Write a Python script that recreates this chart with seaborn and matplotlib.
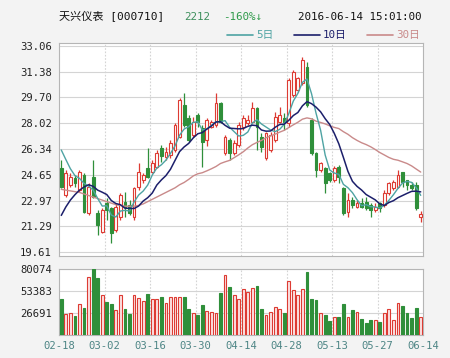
import numpy as np
import pandas as pd
import matplotlib
matplotlib.use("Agg")
import matplotlib.pyplot as plt
import seaborn as sns

# ---------------- data ----------------
tick_labels = ["02-18", "03-02", "03-16", "03-30", "04-14", "04-28", "05-13", "05-27", "06-14"]
price_ticks = [33.06, 31.38, 29.70, 28.02, 26.34, 24.65, 22.97, 21.29, 19.61]
vol_ticks = [26691, 53383, 80074]

opens = [25.07, 23.33, 23.98, 24.42, 23.66, 24.64, 22.13, 24.53, 22.13, 20.93,
         22.79, 22.46, 21.04, 21.91, 22.89, 22.68, 21.91, 23.87, 24.31, 25.07,
         24.85, 25.18, 26.40, 25.83, 25.94, 26.27, 27.14, 29.21, 28.34, 27.25,
         28.55, 27.68, 26.92, 27.79, 27.90, 29.32, 26.05, 26.92, 26.05, 26.60,
         27.79, 28.01, 28.12, 28.99, 27.14, 25.73, 26.27, 26.92, 28.12, 28.34,
         28.01, 29.86, 30.19, 30.62, 31.71, 28.23, 26.05, 24.96, 25.07, 24.74,
         24.31, 25.18, 23.76, 22.24, 23.00, 22.57, 22.79, 22.90, 22.68, 22.35,
         22.79, 22.68, 23.44, 23.76, 23.87, 24.85, 24.31, 23.98, 24.00, 21.90]
highs = [25.62, 24.96, 24.74, 24.64, 24.96, 24.74, 24.09, 25.62, 22.35, 22.46,
         23.11, 22.57, 22.79, 23.44, 23.55, 23.00, 23.87, 25.40, 24.74, 26.38,
         25.62, 26.27, 26.60, 26.49, 26.92, 28.01, 29.64, 29.97, 28.55, 28.45,
         28.66, 27.90, 28.34, 28.23, 29.97, 29.43, 27.25, 27.03, 26.92, 28.12,
         28.55, 28.55, 29.43, 29.10, 27.36, 27.47, 27.47, 28.77, 29.10, 28.66,
         30.95, 31.49, 31.06, 32.36, 32.04, 28.34, 26.16, 25.51, 25.18, 24.85,
         25.20, 25.30, 23.87, 23.44, 23.20, 23.00, 23.11, 23.22, 22.79, 22.80,
         22.90, 23.66, 24.20, 24.31, 24.96, 24.85, 24.31, 24.20, 24.20, 22.30]
lows = [23.76, 23.22, 23.87, 23.87, 23.55, 22.13, 22.02, 23.11, 20.72, 20.83,
        21.70, 20.17, 20.93, 21.70, 21.91, 22.02, 21.70, 23.66, 24.09, 24.42,
        24.74, 25.07, 25.50, 25.62, 25.72, 26.16, 27.03, 27.79, 26.81, 27.14,
        27.79, 25.18, 26.50, 27.68, 27.79, 28.01, 25.94, 25.62, 25.94, 26.49,
        27.57, 27.90, 28.01, 26.27, 26.16, 25.62, 26.16, 26.81, 28.01, 27.57,
        27.79, 29.75, 30.08, 30.51, 29.10, 25.94, 24.53, 24.85, 23.44, 24.20,
        24.20, 24.09, 22.02, 21.91, 22.46, 22.46, 22.46, 22.35, 21.90, 22.24,
        22.24, 22.57, 23.33, 23.66, 23.76, 23.87, 23.66, 23.66, 22.35, 21.60]
closes = [23.87, 24.74, 24.53, 24.09, 24.85, 22.24, 23.87, 23.22, 21.37, 22.35,
          22.35, 20.83, 22.57, 23.33, 22.57, 22.13, 23.76, 24.85, 24.64, 24.53,
          25.40, 26.05, 25.90, 26.16, 26.70, 27.90, 29.53, 27.90, 26.92, 28.12,
          28.12, 26.81, 28.23, 28.12, 29.32, 28.12, 27.14, 26.05, 26.70, 27.90,
          28.34, 28.23, 28.99, 27.79, 26.49, 27.36, 27.25, 28.45, 28.55, 28.12,
          30.84, 31.38, 30.95, 32.15, 29.21, 26.05, 24.96, 25.40, 24.09, 24.31,
          25.07, 24.53, 22.13, 23.00, 22.68, 22.79, 22.57, 22.46, 22.35, 22.57,
          22.46, 23.44, 24.09, 24.20, 24.64, 24.20, 23.98, 23.76, 22.48, 22.12]
volumes = [43300, 25100, 26300, 23000, 37200, 32300, 69900, 79700, 68700, 48500,
           40400, 37500, 30300, 48500, 31600, 25100, 48500, 44500, 41200, 49800,
           43700, 43700, 46500, 39200, 46500, 46500, 46500, 46500, 31100, 26300,
           24300, 36400, 29100, 27500, 26300, 50500, 72800, 58600, 48500, 43300,
           55400, 52500, 56600, 59800, 31100, 24300, 27500, 33500, 31600, 26300,
           65500, 54600, 48500, 55400, 76800, 43300, 42500, 26300, 24300, 17400,
           22200, 22200, 37200, 22200, 30300, 27500, 19400, 14200, 18200, 18200,
           16200, 26300, 31600, 18200, 38400, 35600, 26300, 20200, 32300, 22200]
# moving-average values at the left edge (their windows reach before the chart)
ma5_head = [26.27, 25.65, 25.05, 24.60]
ma10_head = [22.00, 22.55, 23.00, 23.35, 23.65, 23.85, 24.00, 23.90, 23.65]
ma30_head = [23.70, 23.65, 23.60, 23.55, 23.50, 23.40, 23.30, 23.20, 23.10, 23.00,
             22.90, 22.80, 22.70, 22.65, 22.60, 22.60, 22.60, 22.65, 22.75, 22.90,
             23.05, 23.20, 23.35, 23.50, 23.65, 23.80, 24.00, 24.15, 24.35]

# ---------------- style ----------------
BG = "#f3f3f3"
GRID = "#d4d4d4"
RED = "#dd3b33"
GREEN = "#2f8f3a"
C5 = "#4ea3a3"
C10 = "#1c1f6b"
C30 = "#c98a8a"

sns.set_theme(style="white")
MONO = ["DejaVu Sans Mono", "Noto Sans CJK SC"]
plt.rcParams["font.family"] = MONO

n = len(closes)
idx = np.arange(n)
cs = pd.Series(closes)


def moving_average(window, head):
    ma = cs.rolling(window).mean().values.copy()
    ma[:len(head)] = head
    return ma


df = pd.DataFrame({
    "i": idx,
    "ma5": moving_average(5, ma5_head),
    "ma10": moving_average(10, ma10_head),
    "ma30": moving_average(30, ma30_head),
})

fig = plt.figure(figsize=(4.5, 3.58), dpi=100, facecolor=BG)
W, H = 450.0, 358.0
ax = fig.add_axes([59 / W, 1 - 256 / H, 364 / W, 213 / H])
axv = fig.add_axes([59 / W, 1 - 335 / H, 364 / W, 66 / H])

for a in (ax, axv):
    a.set_facecolor("white")
    for s in a.spines.values():
        s.set_color("#b5b5b5")
        s.set_linewidth(0.8)
    a.tick_params(length=0, labelsize=7.6, colors="#222222", pad=5)

xt = [-0.5 + 10 * k for k in range(9)]
for a in (ax, axv):
    a.set_xlim(-0.5, n - 0.5)
    for x in xt[1:-1]:
        a.axvline(x, color=GRID, lw=0.8, ls=(0, (1.5, 1.5)), zorder=0)

# price panel
ax.set_ylim(19.349, 33.256)
ax.set_yticks(price_ticks)
ax.set_yticklabels([f"{v:.2f}" for v in price_ticks])
for y in price_ticks:
    ax.axhline(y, color=GRID, lw=0.8, zorder=0)
ax.set_xticks([])

bw = 0.62
for i in idx:
    o, h, l, c = opens[i], highs[i], lows[i], closes[i]
    up = c >= o
    col = RED if up else GREEN
    ax.vlines(i, l, h, color=col, lw=0.9, zorder=2)
    body = max(abs(c - o), 0.04)
    ax.bar(i, body, bottom=min(o, c), width=bw,
           facecolor="white" if up else col, edgecolor=col, lw=0.8, zorder=3)

sns.lineplot(data=df, x="i", y="ma30", ax=ax, color=C30, lw=1.0, zorder=4)
sns.lineplot(data=df, x="i", y="ma5", ax=ax, color=C5, lw=1.0, zorder=5)
sns.lineplot(data=df, x="i", y="ma10", ax=ax, color=C10, lw=1.1, zorder=6)
ax.set_xlabel("")
ax.set_ylabel("")

# volume panel
axv.set_ylim(0, 80074)
axv.set_yticks(vol_ticks)
axv.set_yticklabels([str(v) for v in vol_ticks])
for y in vol_ticks:
    axv.axhline(y, color=GRID, lw=0.8, zorder=0)
for i in idx:
    up = closes[i] >= opens[i]
    col = RED if up else GREEN
    axv.bar(i, volumes[i], width=bw, facecolor="#fbe3e3" if up else col,
            edgecolor=col, lw=0.8, zorder=3)
axv.set_xticks(xt)
axv.set_xticklabels(tick_labels)
axv.tick_params(axis="x", colors="#4d8585", pad=4)

# header
def px(x, y):
    return x / W, 1 - y / H

fig.text(*px(59, 17), "天兴仪表 [000710]", family=MONO, fontsize=8.0, color="#111111", va="center")
fig.text(*px(184, 17), "2212", fontsize=7.8, color="#3d8f5c", va="center")
fig.text(*px(223, 17), "-160%↓", fontsize=7.8, color="#2f9a4a", va="center")
fig.text(*px(298, 17), "2016-06-14 15:01:00", fontsize=7.8, color="#111111", va="center")

for x0, lab, col in [(227, "5日", C5), (294, "10日", C10), (367, "30日", C30)]:
    fig.add_artist(plt.Line2D([x0 / W, (x0 + 26) / W], [1 - 35 / H] * 2, color=col, lw=1.2))
    fig.text(*px(x0 + 29, 35), lab, family=MONO, fontsize=7.8, color=col, va="center")

fig.savefig("out.png", dpi=100, facecolor=BG)
